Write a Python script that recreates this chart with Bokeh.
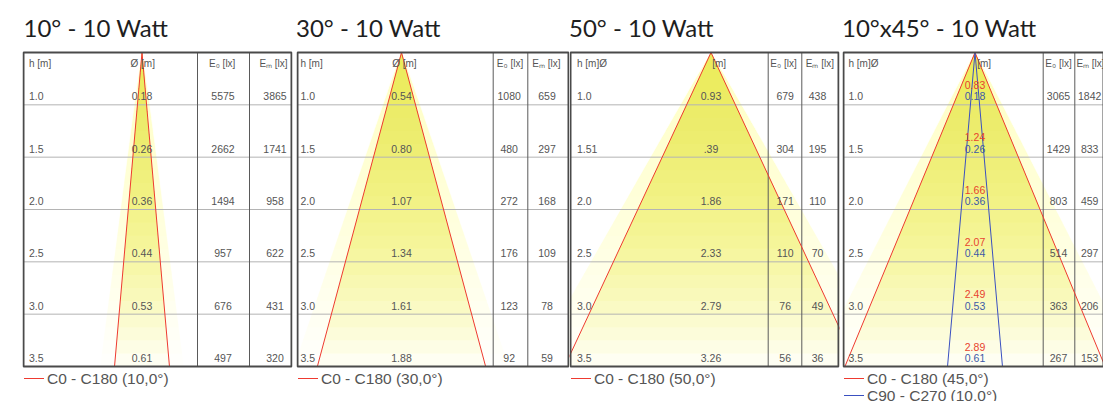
import math
from bokeh.plotting import figure
from bokeh.models import Range1d
from bokeh.layouts import row
from bokeh.embed import file_html
from bokeh.resources import INLINE
from bokeh.core.properties import value

# ---------------- data ----------------
heights = [1.0, 1.5, 2.0, 2.5, 3.0, 3.5]
h_labels = ["1.0", "1.5", "2.0", "2.5", "3.0", "3.5"]
h_labels_p3 = ["1.0", "1.51", "2.0", "2.5", "3.0", "3.5"]
titles = ["10° - 10 Watt", "30° - 10 Watt", "50° - 10 Watt", "10°x45° - 10 Watt"]

p1_angle = 10.0
p1_diam = ["0.18", "0.26", "0.36", "0.44", "0.53", "0.61"]
p1_e0 = [5575, 2662, 1494, 957, 676, 497]
p1_em = [3865, 1741, 958, 622, 431, 320]

p2_angle = 30.0
p2_diam = ["0.54", "0.80", "1.07", "1.34", "1.61", "1.88"]
p2_e0 = [1080, 480, 272, 176, 123, 92]
p2_em = [659, 297, 168, 109, 78, 59]

p3_angle = 50.0
p3_diam = ["0.93", ".39", "1.86", "2.33", "2.79", "3.26"]
p3_e0 = [679, 304, 171, 110, 76, 56]
p3_em = [438, 195, 110, 70, 49, 36]

p4_angle_c0 = 45.0
p4_angle_c90 = 10.0
p4_diam_c0 = ["0.83", "1.24", "1.66", "2.07", "2.49", "2.89"]
p4_diam_c90 = ["0.18", "0.26", "0.36", "0.44", "0.53", "0.61"]
p4_e0 = [3065, 1429, 803, 514, 363, 267]
p4_em = [1842, 833, 459, 297, 206, 153]

# ---------------- layout / style ----------------
H_MAX = 3.5
FRAME_H = 314
TOP = 52
BOTTOM = 35
FIG_H = TOP + FRAME_H + BOTTOM
S = FRAME_H / H_MAX          # px per metre
ROW_H = H_MAX / 6
TXT = "#555555"
RED = "#ee3a30"
BLUE = "#3a50c0"
RED_TXT = "#e8432f"
BLUE_TXT = "#3d5aa6"
FONT = "Liberation Sans"

specs = [
    dict(bl=23, fw=268, br=3, apex=118.5, col1=174, col2=226, e0=199.5, em=251.5,
         he0=198.7, hem=250, hl=5.5, diamh=107, title=0),
    dict(bl=3, fw=271, br=1, apex=104, col1=195.7, col2=230.3, e0=211.7, em=249.5,
         he0=212.5, hem=248.8, hl=3, diamh=94.7, title=-1.5),
    dict(bl=1, fw=268, br=2, apex=140.5, col1=197.7, col2=231.3, e0=214.7, em=247,
         he0=213, hem=249.3, hl=6.5, diamh=141.7, title=-1.5),
    dict(bl=3, fw=260, br=0, apex=131.5, col1=199.7, col2=231.3, e0=215, em=246.2,
         he0=215, hem=247, hl=5, diamh=133.7, title=-1.5),
]


def beam_fill(p, angle):
    t = math.tan(math.radians(angle / 2))
    n = 24
    hx, hy, ix, iy = [], [], [], []
    for k in range(1, n + 1):
        d = H_MAX * k / n
        hw = d * t
        hh = hw * 1.16 + 0.09 * d / H_MAX + 0.02
        hx.append([0, -hh, hh]); hy.append([0, d, d])
        ix.append([0, -hw, hw]); iy.append([0, d, d])
    p.patches(hx, hy, fill_color="#f0f290", fill_alpha=0.03, line_color=None)
    p.patches(ix, iy, fill_color="#e8ec3a", fill_alpha=0.05, line_color=None)


def beam_line(p, angle, color):
    hw = H_MAX * math.tan(math.radians(angle / 2))
    return p.line([-hw, 0, hw], [H_MAX, 0, H_MAX], line_color=color, line_width=1)


def make_panel(i, spec, angles, colors, h_lab, diam_sets, e0, em, legend_labels, three_col_header):
    bl, fw, br, apex = spec["bl"], spec["fw"], spec["br"], spec["apex"]
    X = lambda px: (px - apex) / S
    Y = lambda py: (py - TOP) / S          # screen row -> metres below table top
    mbl, mbr = max(bl - 1, 0), max(br - 1, 0)
    p = figure(width=bl + fw + br, height=FIG_H,
               x_range=Range1d(X(-(bl - mbl)), X(fw + (br - mbr))),
               y_range=Range1d(Y(FIG_H), Y(0)),
               output_backend="svg", toolbar_location=None,
               x_axis_location=None, y_axis_location=None,
               min_border_left=mbl, min_border_right=mbr,
               min_border_top=0, min_border_bottom=0)
    p.xgrid.visible = False
    p.ygrid.visible = False
    p.outline_line_color = None
    p.background_fill_color = "white"
    p.border_fill_color = "white"

    beam_fill(p, angles[0])

    # row lines
    p.segment(x0=[X(0)] * 5, x1=[X(fw)] * 5,
              y0=[ROW_H * k for k in range(1, 6)], y1=[ROW_H * k for k in range(1, 6)],
              line_color="#b4b4b4", line_width=1)
    # column lines
    p.segment(x0=[X(spec["col1"]), X(spec["col2"])], x1=[X(spec["col1"]), X(spec["col2"])],
              y0=[0, 0], y1=[H_MAX, H_MAX], line_color="#5a5a5a", line_width=1)

    for a, c in zip(angles, colors):
        beam_line(p, a, c)

    # table box
    p.quad(left=[X(0)], right=[X(fw)], top=[0], bottom=[H_MAX], fill_color=None,
           line_color="#4a4a4a", line_width=2)

    tf = value(FONT)
    y_rows = [(k + 1) * ROW_H - 8.5 / S for k in range(6)]
    # headers
    yh = 10.5 / S
    heads = ["h [m]Ø", "[m]"] if three_col_header else ["h [m]", "Ø [m]"]
    p.text([X(spec["hl"]), X(spec["diamh"])], [yh, yh], text=heads, text_font=tf,
           text_font_size="10px", text_color=TXT, text_align="left", text_baseline="middle")
    p.text([X(spec["he0"]), X(spec["hem"])], [yh, yh], text=["E\u2080 [lx]", "E\u2098 [lx]"],
           text_font=tf, text_font_size="10px", text_color=TXT,
           text_align="center", text_baseline="middle")

    # row values
    p.text([X(spec["hl"])] * 6, y_rows, text=h_lab, text_font=tf, text_font_size="10.5px",
           text_color=TXT, text_align="left", text_baseline="middle")
    if len(diam_sets) == 1:
        p.text([0] * 6, y_rows, text=diam_sets[0], text_font=tf, text_font_size="10.5px",
               text_color=TXT, text_align="center", text_baseline="middle")
    else:
        p.text([0] * 6, [y - 11.5 / S for y in y_rows], text=diam_sets[0], text_font=tf,
               text_font_size="10.5px", text_color=RED_TXT, text_align="center",
               text_baseline="middle")
        p.text([0] * 6, y_rows, text=diam_sets[1], text_font=tf, text_font_size="10.5px",
               text_color=BLUE_TXT, text_align="center", text_baseline="middle")
    p.text([X(spec["e0"])] * 6, y_rows, text=[str(v) for v in e0], text_font=tf,
           text_font_size="10.5px", text_color=TXT, text_align="center", text_baseline="middle")
    p.text([X(spec["em"])] * 6, y_rows, text=[str(v) for v in em], text_font=tf,
           text_font_size="10.5px", text_color=TXT, text_align="center", text_baseline="middle")

    # title
    p.text([X(spec["title"])], [Y(27)], text=[titles[i]], text_font=value("Lato"),
           text_font_size="24px", text_color="#1e1e1e", text_align="left",
           text_baseline="alphabetic")

    # legend (line sample + label) under the table
    for k, lab in enumerate(legend_labels):
        ly = Y(378 + 17 * k)
        p.segment(x0=[X(0.5)], x1=[X(20.5)], y0=[ly], y1=[ly], line_color=colors[k],
                  line_width=1)
        p.text([X(23.5)], [ly], text=[lab], text_font=tf, text_font_size="15.5px",
               text_color=TXT, text_align="left", text_baseline="middle")
    return p


def leg_label(name, angle):
    return f"{name} ({angle:.1f}°)".replace(".", ",")


figs = [
    make_panel(0, specs[0], [p1_angle], [RED], h_labels, [p1_diam], p1_e0, p1_em,
               [leg_label("C0 - C180", p1_angle)], False),
    make_panel(1, specs[1], [p2_angle], [RED], h_labels, [p2_diam], p2_e0, p2_em,
               [leg_label("C0 - C180", p2_angle)], False),
    make_panel(2, specs[2], [p3_angle], [RED], h_labels_p3, [p3_diam], p3_e0, p3_em,
               [leg_label("C0 - C180", p3_angle)], True),
    make_panel(3, specs[3], [p4_angle_c0, p4_angle_c90], [RED, BLUE], h_labels,
               [p4_diam_c0, p4_diam_c90], p4_e0, p4_em,
               [leg_label("C0 - C180", p4_angle_c0), leg_label("C90 - C270", p4_angle_c90)], True),
]

layout = row(*figs, spacing=0)
open("out.html", "w").write(file_html(layout, INLINE))
